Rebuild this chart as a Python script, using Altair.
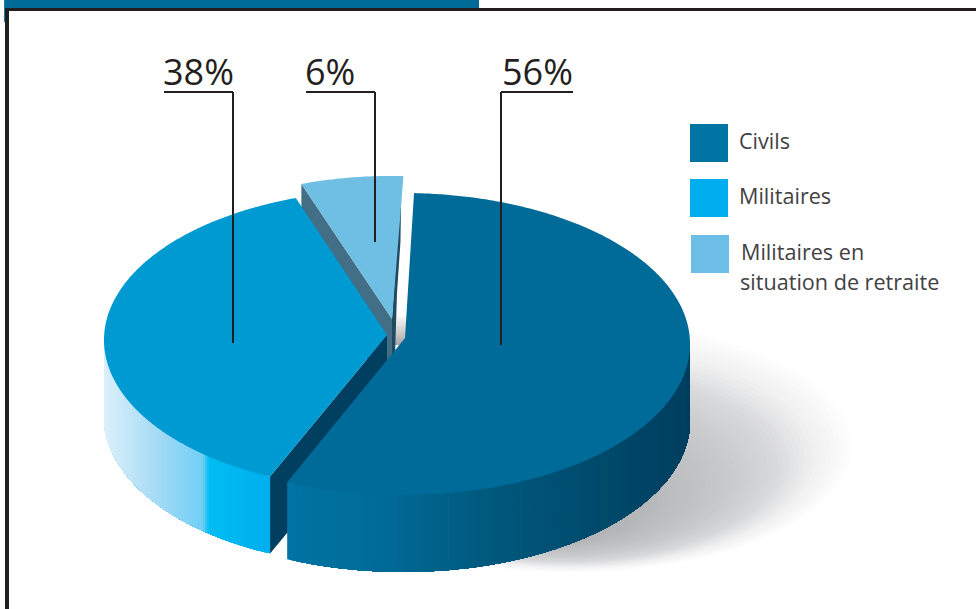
import math
import numpy as np
import pandas as pd
import altair as alt

# Shares of the pie, in percent
categories = ["Civils", "Militaires", "Militaires en situation de retraite"]
shares = [56, 38, 6]
legend_lines = [["Civils"], ["Militaires"], ["Militaires en", "situation de retraite"]]

# Flat colours
civil_top, military_top, retired_top = "#006b99", "#009ad2", "#6fbfe5"
legend_colors = ["#0075a4", "#00aeef", "#6dbee6"]
ink = "#231f20"

# Disc geometry: each slice has its own exploded ellipse
DEPTH = 77
civil = dict(cx=403, cy=344, rx=287, ry=151, ax=405, ay=338, start=2.2)
military = dict(cx=387, cy=340, rx=283, ry=150, ax=387, ay=335, start=204.4)
retired = dict(cx=390, cy=325, rx=275, ry=149, ax=392, ay=319, start=341.2)

# Horizontal colour ramps of the rim (x position, colour)
civil_ramp = [(288, "#0074a3"), (390, "#006a96"), (480, "#005a7f"), (600, "#004a6c"), (690, "#003f5f")]
military_ramp = [(104, "#dcf0fb"), (157, "#a5dbf5"), (203, "#70cff6"), (209, "#00bdf2"), (272, "#00aeef")]
# Shadow ramp: nesting level to grey
shadow_ramp = [(0.0, "#a8a9ab"), (0.33, "#b6b7b9"), (0.6, "#c8c9cb"), (0.75, "#d8d9db"), (0.87, "#f0f0f0"), (1.0, "#ffffff")]


def rgb(h):
    return [int(h[i:i + 2], 16) for i in (1, 3, 5)]


def ramp(stops, x):
    xs = [s[0] for s in stops]
    chans = [np.interp(x, xs, [rgb(s[1])[k] for s in stops]) for k in range(3)]
    return "#%02x%02x%02x" % tuple(int(round(c)) for c in chans)


def rim(s, deg, dy=0):
    t = math.radians(deg)
    return [s["cx"] + s["rx"] * math.sin(t), s["cy"] - s["ry"] * math.cos(t) + dy]


def feature(points, fill):
    ring = [list(p) for p in points] + [list(points[0])]
    return {"type": "Feature", "properties": {"fill": fill},
            "geometry": {"type": "Polygon", "coordinates": [ring]}}


def arc_points(s, a, b, dy=0):
    n = max(2, int(abs(b - a) * 2))
    return [rim(s, a + (b - a) * i / n, dy) for i in range(n + 1)]


def top_face(s, a, b, fill):
    return feature([[s["ax"], s["ay"]]] + arc_points(s, a, b), fill)


def side_strips(s, a, b, stops):
    # Each strip runs on to the far end of the rim and the next one paints over it,
    # so no hairline seams show between neighbouring colours.
    out = []
    n = int(abs(b - a)) * 2
    for i in range(n):
        p = a + (b - a) * i / n
        q = a + (b - a) * (i + 1) / n
        upper = arc_points(s, p, b)
        lower = arc_points(s, p, b, DEPTH)[::-1]
        mid = (rim(s, p)[0] + rim(s, q)[0]) / 2
        out.append(feature(upper + lower, ramp(stops, mid)))
    return out


# Slice angles come straight from the shares
civil_end = civil["start"] + shares[0] * 3.6
military_end = military["start"] + shares[1] * 3.6
retired_end = retired["start"] + shares[2] * 3.6

features = []

# Soft shadow: nested ellipses drifting towards the foot of the disc
for i in range(60):
    level = 1 - i / 60
    cx = 572 - 30 * (1 - level)
    cy = 445 + 85 * (1 - level)
    pts = [[cx + 285 * level * math.cos(a), cy + 128 * level * math.sin(a)]
           for a in np.linspace(0, 2 * math.pi, 90)[:-1]]
    features.append(feature(pts, ramp(shadow_ramp, level)))

# Grey glimpse of the inner wall between the slices
for i in range(16):
    y = 313 + i * 2
    g = ramp([(313, "#ffffff"), (345, "#a4a4a6")], y)
    features.append(feature([[392, y], [412, y], [412, y + 2.2], [392, y + 2.2]], g))

# Cut faces of the small slice
rs = rim(retired, retired["start"])
re = rim(retired, retired_end)
ax, ay = retired["ax"], retired["ay"]
features.append(feature([rs, [ax, ay], [ax, ay + DEPTH], [rs[0], rs[1] + DEPTH]], "#426f86"))
features.append(feature([[re[0] - 2, re[1]], [re[0] - 3, re[1] + 66], [ax + 5, ay - 26], [ax + 3, ay + 36], [ax, ay + 36], [ax, ay]],
                        "#1f4b61"))
features.append(top_face(retired, retired["start"], retired_end, retired_top))

# Military slice: cut face, rim, top
ms = rim(military, military["start"])
features.append(feature([[military["ax"], military["ay"]], ms, [ms[0], ms[1] + DEPTH],
                         [military["ax"], military["ay"] + DEPTH]], "#003f5f"))
features += side_strips(military, military["start"], 270, military_ramp)
features.append(top_face(military, military["start"], military_end, military_top))

# Civil slice: rim, top
features += side_strips(civil, civil_end, 90, civil_ramp)
features.append(top_face(civil, civil["start"], civil_end, civil_top))

disc = alt.Chart(alt.Data(values=features)).mark_geoshape(strokeWidth=0).encode(
    fill=alt.Fill("properties.fill:N", scale=None, legend=None),
).project(type="identity", scale=1, translate=[0, 0])

X = alt.X("x:Q", scale=None, axis=None)
Y = alt.Y("y:Q", scale=None, axis=None)
X2 = alt.X2("x2:Q")
Y2 = alt.Y2("y2:Q")

# Page furniture: heading band and frame
frame = pd.DataFrame([
    dict(x=4, x2=479, y=0, y2=8, c="#006b99"),
    dict(x=4, x2=5, y=0, y2=22, c="#1a7fa3"),
    dict(x=5, x2=976, y=8, y2=11, c=ink),
    dict(x=5, x2=9, y=8, y2=609, c=ink),
])
frame_marks = alt.Chart(frame).mark_rect().encode(
    x=X, x2=X2, y=Y, y2=Y2, color=alt.Color("c:N", scale=None, legend=None))

# Leader lines under the percentages
leader_x0 = [164, 306, 501]
leader_x1 = [233, 375, 573]
leader_drop_x = [233, 375, 501]
leader_end_y = [343, 242, 345]
leader_y = 92
labels_x = [163, 305, 502]
label_share = [shares[1], shares[2], shares[0]]

hl = pd.DataFrame(dict(x=leader_x0, x2=leader_x1, y=[leader_y] * 3, y2=[leader_y] * 3))
vl = pd.DataFrame(dict(x=leader_drop_x, x2=leader_drop_x, y=[leader_y] * 3, y2=leader_end_y))
leaders = alt.Chart(pd.concat([hl, vl])).mark_rule(color=ink, strokeWidth=2).encode(x=X, x2=X2, y=Y, y2=Y2)

pct = pd.DataFrame(dict(x=labels_x, y=[85] * 3, t=[f"{v}%" for v in label_share]))
pct_text = alt.Chart(pct).mark_text(font="Open Sans", fontSize=36, align="left", baseline="alphabetic", color=ink).encode(
    x=X, y=Y, text="t:N")

# Legend
swatches = pd.DataFrame(dict(x=[690, 690, 691], x2=[728, 728, 729], y=[124, 179, 235], y2=[162, 217, 273], c=legend_colors))
swatch_marks = alt.Chart(swatches).mark_rect().encode(
    x=X, x2=X2, y=Y, y2=Y2, color=alt.Color("c:N", scale=None, legend=None))

legend_rows = pd.DataFrame(dict(
    x=[739, 739, 741, 740],
    y=[149, 204, 260, 290],
    t=[legend_lines[0][0], legend_lines[1][0], legend_lines[2][0], legend_lines[2][1]],
))
legend_text = alt.Chart(legend_rows).mark_text(font="Open Sans", fontSize=21.6, align="left", baseline="alphabetic", color="#414143").encode(
    x=X, y=Y, text="t:N")

chart = alt.layer(disc, frame_marks, leaders, pct_text, swatch_marks, legend_text).properties(
    width=976, height=609, padding=0, background="white",
    autosize=alt.AutoSizeParams(type="none"),
).configure_view(stroke=None)

chart.save("out.html", embed_options={"renderer": "svg", "actions": False})
